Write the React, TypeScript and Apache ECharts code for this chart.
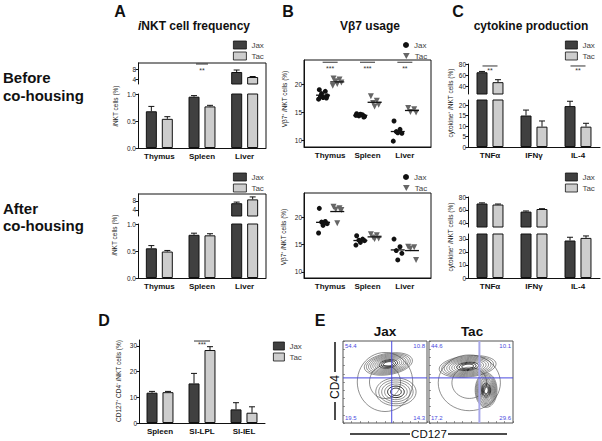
import React, { useEffect, useRef } from 'react';
import * as echarts from 'echarts';

const FONT = 'Liberation Sans, Arial, Helvetica, sans-serif';
const INK = '#111111';
const JAX_FILL = '#404040';
const TAC_FILL = '#cdcdcd';
const TAC_DOT = '#666666';
const QUAD_BLUE = '#4a4ae0';

// ---------- categories ----------
const organs = ['Thymus', 'Spleen', 'Liver'];
const cytokines = ['TNFα', 'IFNγ', 'IL-4'];
const tissues = ['Spleen', 'SI-LPL', 'SI-IEL'];
const groupsNames = ['Jax', 'Tac'];

// ---------- A: iNKT cell frequency (%) ----------
const freqBeforeJax = [0.68, 0.95, 6.8];
const freqBeforeJaxErr = [0.09, 0.02, 0.8];
const freqBeforeTac = [0.54, 0.77, 4.8];
const freqBeforeTacErr = [0.04, 0.02, 0.2];
const freqAfterJax = [0.55, 0.8, 7.0];
const freqAfterJaxErr = [0.05, 0.03, 0.5];
const freqAfterTac = [0.49, 0.79, 8.7];
const freqAfterTacErr = [0.02, 0.03, 1.1];
const sigFreqBefore = ['', '**', ''];

// ---------- B: Vβ7 usage (%) ----------
const vb7BeforeJax = [
  [19.0, 18.7, 18.3, 17.9, 17.6, 17.3, 17.5, 17.8],
  [14.7, 14.5, 14.3, 14.2, 14.6, 14.4, 14.1],
  [13.4, 11.9, 11.5, 11.2, 11.3, 9.8],
];
const vb7BeforeTac = [
  [21.0, 20.8, 20.5, 20.3, 20.0, 19.7],
  [17.8, 17.0, 16.6, 16.3, 16.0],
  [15.7, 15.5, 15.0, 14.9],
];
const vb7AfterJax = [
  [21.6, 19.2, 19.1, 18.8, 18.5, 17.1],
  [16.6, 16.0, 15.8, 15.7, 15.4, 14.9],
  [16.0, 14.6, 13.9, 13.4, 12.2],
];
const vb7AfterTac = [
  [21.9, 21.6, 21.4, 21.3, 18.9],
  [16.9, 16.7, 16.3, 16.1, 16.0],
  [14.6, 14.5, 14.3, 12.2],
];
const sigVb7Before = ['***', '***', '**'];

// ---------- C: cytokine production (%) ----------
const cytoBeforeJax = [65, 15, 19.5];
const cytoBeforeJaxErr = [1.5, 2.6, 2.3];
const cytoBeforeTac = [47, 9.7, 9.7];
const cytoBeforeTacErr = [4.5, 2.7, 1.6];
const cytoAfterJax = [70, 57.5, 28.8];
const cytoAfterJaxErr = [1.0, 1.0, 2.5];
const cytoAfterTac = [68.4, 61.5, 30.8];
const cytoAfterTacErr = [0.8, 0.5, 1.5];
const sigCytoBefore = ['**', '', '**'];

// ---------- D: CD127+ CD4- iNKT cells (%) ----------
const cd127Jax = [11.8, 15.4, 5.3];
const cd127JaxErr = [0.5, 3.9, 2.6];
const cd127Tac = [12.0, 28.4, 4.0];
const cd127TacErr = [0.3, 1.3, 2.3];
const sigCd127 = ['', '***', ''];

// ---------- E: flow quadrants ----------
const jaxQuad = [54.4, 10.8, 19.5, 14.3];
const tacQuad = [44.6, 10.1, 17.2, 29.6];
const jaxGate = [58, 55];
const tacGate = [60, 55];
// contour clusters: [cx, cy, rx, ry, rotationDeg, levels]
const jaxClusters = [
  [50, 50, 33, 36, 0, 2],
  [63, 38, 24, 17, 0, 6],
  [54, 72, 29, 13, 10, 10],
];
const tacClusters = [
  [48, 49, 37, 34, 0, 2],
  [46, 69, 34, 13, 6, 10],
  [68, 40, 13, 21, 0, 12],
];

// ---------- tick labels ----------
const ticksFreqUpper = [4, 8];
const ticksFreqLower = [0, 0.5, 1.0];
const ticksVb7 = [10, 15, 20];
const ticksCytoUpper = [40, 60, 80];
const ticksCytoBeforeLower = [0, 5, 10, 15, 20];
const ticksCytoAfterLower = [0, 10, 20, 30];
const ticksCd127 = [0, 10, 20, 30];

// ---------- layout constants ----------
const BAR_W = 11;
const BAR_HALF = 8;
const GROUP_OFF = 0.19;
const JITTER = [-0.1, 0.06, -0.04, 0.11, 0.0, -0.12, 0.09, -0.07];

const mean = (a: number[]) => a.reduce((s, v) => s + v, 0) / a.length;

function catAxis(gi: number, cats: string[], labels: boolean) {
  return {
    type: 'category', gridIndex: gi, data: cats,
    axisLine: { show: labels, onZero: false, lineStyle: { color: INK, width: 1 } },
    axisTick: { show: false },
    axisLabel: { show: labels, fontSize: 8, fontWeight: 'bold', color: INK, margin: 4, interval: 0, fontFamily: FONT },
    splitLine: { show: false },
  };
}

function valAxis(gi: number, min: number, max: number, ticks: number[], dec = 0) {
  return {
    type: 'value', gridIndex: gi, min, max,
    axisLine: { show: true, onZero: false, lineStyle: { color: INK, width: 1 } },
    axisTick: { show: true, length: 2.5, customValues: ticks, lineStyle: { color: INK } },
    axisLabel: { customValues: ticks, fontSize: 6.5, color: '#222', margin: 2, fontFamily: FONT, formatter: (v: number) => v.toFixed(dec) },
    splitLine: { show: false },
  };
}

function barPair(gi: number, jax: number[], tac: number[]) {
  const common = { type: 'bar', xAxisIndex: gi, yAxisIndex: gi, barWidth: BAR_W, barGap: '45%', clip: true, silent: true };
  return [
    { ...common, name: 'Jax', data: jax, itemStyle: { color: JAX_FILL, borderColor: INK, borderWidth: 1 } },
    { ...common, name: 'Tac', data: tac, itemStyle: { color: TAC_FILL, borderColor: INK, borderWidth: 1 } },
  ];
}

function errSeries(gi: number, vals: number[], errs: number[], offset: number) {
  return {
    type: 'custom', xAxisIndex: gi, yAxisIndex: gi, clip: true, silent: true, z: 4,
    data: vals.map((v, i) => [i, v, v + errs[i]]),
    renderItem: (params: any, api: any) => {
      const p0 = api.coord([api.value(0), api.value(1)]);
      const p1 = api.coord([api.value(0), api.value(2)]);
      const x = p0[0] + offset;
      return {
        type: 'group',
        children: [
          { type: 'line', shape: { x1: x, y1: p0[1], x2: x, y2: p1[1] }, style: { stroke: INK, lineWidth: 1 } },
          { type: 'line', shape: { x1: x - 3, y1: p1[1], x2: x + 3, y2: p1[1] }, style: { stroke: INK, lineWidth: 1 } },
        ],
      };
    },
  };
}

function barPanel(upper: number | null, lower: number, jax: number[], jaxErr: number[], tac: number[], tacErr: number[]) {
  const out: any[] = [];
  const gis = upper === null ? [lower] : [upper, lower];
  gis.forEach((gi) => {
    out.push(...barPair(gi, jax, tac));
    out.push(errSeries(gi, jax, jaxErr, -BAR_HALF));
    out.push(errSeries(gi, tac, tacErr, BAR_HALF));
  });
  return out;
}

function sigSeries(gi: number, labels: string[], lineValue: number, half = 7.5, textGap = 5) {
  const data = labels.map((t, i) => [i, lineValue]).filter((d) => labels[d[0]] !== '');
  return {
    type: 'custom', xAxisIndex: gi, yAxisIndex: gi, clip: false, silent: true, z: 5,
    data,
    renderItem: (params: any, api: any) => {
      const p = api.coord([api.value(0), api.value(1)]);
      const txt = labels[Math.round(api.value(0))];
      return {
        type: 'group',
        children: [
          { type: 'line', shape: { x1: p[0] - half, y1: p[1], x2: p[0] + half, y2: p[1] }, style: { stroke: '#333', lineWidth: 1 } },
          { type: 'text', x: p[0], y: p[1] + textGap, style: { text: txt, fontSize: 7, fill: '#333', align: 'center', verticalAlign: 'middle', fontFamily: FONT } },
        ],
      };
    },
  };
}

function dotSeries(gi: number, groups: number[][], side: number, name: string) {
  const data: number[][] = [];
  groups.forEach((arr, g) => arr.forEach((v, j) => data.push([g + side * GROUP_OFF + JITTER[j % JITTER.length], v])));
  const isJax = name === 'Jax';
  return {
    type: 'scatter', name, xAxisIndex: gi, yAxisIndex: gi, silent: true, data,
    symbol: isJax ? 'circle' : 'triangle',
    symbolRotate: isJax ? 0 : 180,
    symbolSize: isJax ? 5 : 6,
    itemStyle: { color: isJax ? INK : TAC_DOT, opacity: 1 },
  };
}

function meanSeries(gi: number, groups: number[][], side: number) {
  return {
    type: 'custom', xAxisIndex: gi, yAxisIndex: gi, silent: true, z: 5,
    data: groups.map((arr, g) => [g + side * GROUP_OFF, mean(arr)]),
    renderItem: (params: any, api: any) => {
      const p = api.coord([api.value(0), api.value(1)]);
      return { type: 'line', shape: { x1: p[0] - 7, y1: p[1], x2: p[0] + 7, y2: p[1] }, style: { stroke: INK, lineWidth: 1.3 } };
    },
  };
}

function contourSeries(gi: number, clusters: number[][]) {
  return {
    type: 'custom', xAxisIndex: gi, yAxisIndex: gi, silent: true, clip: true,
    data: clusters,
    renderItem: (params: any, api: any) => {
      const cx = api.value(0), cy = api.value(1), rx = api.value(2), ry = api.value(3);
      const rot = (api.value(4) * Math.PI) / 180;
      const lv = api.value(5);
      const children: any[] = [];
      for (let k = 0; k < lv; k++) {
        const s = 1 - (0.88 * k) / lv;
        const pts: number[][] = [];
        for (let t = 0; t < 48; t++) {
          const a = (t / 48) * Math.PI * 2;
          const dx = rx * s * Math.cos(a);
          const dy = ry * s * Math.sin(a);
          const x = cx + dx * Math.cos(rot) - dy * Math.sin(rot);
          const y = cy + dx * Math.sin(rot) + dy * Math.cos(rot);
          pts.push(api.coord([x, y]));
        }
        children.push({ type: 'polygon', shape: { points: pts }, style: { fill: 'none', stroke: k > lv * 0.6 ? '#111' : '#444', lineWidth: k > lv * 0.6 ? 0.9 : 0.6 } });
      }
      return { type: 'group', children };
    },
  };
}

function gateSeries(gi: number, gate: number[], vColor: string, vWidth: number) {
  return {
    type: 'custom', xAxisIndex: gi, yAxisIndex: gi, silent: true, z: 6,
    data: [gate],
    renderItem: (params: any, api: any) => {
      const cs = params.coordSys;
      const p = api.coord([api.value(0), api.value(1)]);
      return {
        type: 'group',
        children: [
          { type: 'line', shape: { x1: p[0], y1: cs.y, x2: p[0], y2: cs.y + cs.height }, style: { stroke: vColor, lineWidth: vWidth } },
          { type: 'line', shape: { x1: cs.x, y1: p[1], x2: cs.x + cs.width, y2: p[1] }, style: { stroke: QUAD_BLUE, lineWidth: 1 } },
        ],
      };
    },
  };
}

function quadTextSeries(gi: number, quad: number[]) {
  return {
    type: 'custom', xAxisIndex: gi, yAxisIndex: gi, silent: true, z: 7,
    data: [quad],
    renderItem: (params: any, api: any) => {
      const cs = params.coordSys;
      const st = (text: string, align: string, va: string) => ({ text, fontSize: 6, fill: QUAD_BLUE, align, verticalAlign: va, fontFamily: FONT });
      return {
        type: 'group',
        children: [
          { type: 'text', x: cs.x + 2, y: cs.y + 2, style: st(api.value(0).toFixed(1), 'left', 'top') },
          { type: 'text', x: cs.x + cs.width - 2, y: cs.y + 2, style: st(api.value(1).toFixed(1), 'right', 'top') },
          { type: 'text', x: cs.x + 2, y: cs.y + cs.height - 2, style: st(api.value(2).toFixed(1), 'left', 'bottom') },
          { type: 'text', x: cs.x + cs.width - 2, y: cs.y + cs.height - 2, style: st(api.value(3).toFixed(1), 'right', 'bottom') },
        ],
      };
    },
  };
}

function flowAxis(gi: number) {
  return {
    type: 'value', gridIndex: gi, min: 0, max: 100, splitNumber: 10,
    axisLine: { show: false, onZero: false },
    axisTick: { show: true, inside: true, length: 2, lineStyle: { color: '#555', width: 0.6 } },
    axisLabel: { show: false },
    splitLine: { show: false },
  };
}

// one legend component per entry, so each entry sits exactly where the reference has it
function legendEntry(left: number, centerY: number, name: string, icon: string, itemStyle: any, iw: number, ih: number) {
  return {
    left, top: centerY - 5, orient: 'vertical', itemWidth: iw, itemHeight: ih, padding: 0, selectedMode: false,
    textStyle: { fontSize: 8, color: '#444', fontFamily: FONT, lineHeight: 10 },
    data: [{ name, icon, itemStyle }],
  };
}

function barLegend(left: number, cy: number, iw: number) {
  return [
    legendEntry(left, cy, groupsNames[0], 'rect', { color: JAX_FILL, borderColor: INK, borderWidth: 0.8 }, iw, 8),
    legendEntry(left, cy + 11, groupsNames[1], 'rect', { color: TAC_FILL, borderColor: INK, borderWidth: 0.8 }, iw, 8),
  ];
}

function dotLegend(left: number, cy: number) {
  return [
    legendEntry(left, cy, groupsNames[0], 'circle', { color: INK, borderWidth: 0 }, 6, 6),
    legendEntry(left, cy + 11, groupsNames[1], 'path://M0,0L10,0L5,9Z', { color: TAC_DOT, borderWidth: 0 }, 7, 6),
  ];
}

function txt(x: number, y: number, text: string, size: number, weight = 'normal', align = 'center', rich?: any, rotation = 0, fill = INK) {
  return {
    type: 'text', x, y, rotation, silent: true,
    style: { text, fontSize: size, fontWeight: weight, fontFamily: FONT, fill, align, verticalAlign: 'middle', rich },
  };
}

function yName(x: number, y: number, pre: string, post: string) {
  const base = { fontSize: 6.5, fontFamily: FONT, fill: '#222' };
  return txt(x, y, `{n|${pre}}{it|i}{n|${post}}`, 6.5, 'normal', 'center', {
    n: { ...base }, it: { ...base, fontStyle: 'italic' },
  }, Math.PI / 2, '#222');
}

function hline(x1: number, y1: number, x2: number, y2: number, w = 1) {
  return { type: 'line', silent: true, shape: { x1, y1, x2, y2 }, style: { stroke: INK, lineWidth: w } };
}

function buildOption() {
  const gridRects = [
    [138, 63, 128, 21],
    [138, 94, 128, 54],
    [138, 194, 128, 22],
    [138, 224, 128, 54],
    [304, 60, 127, 87],
    [304, 193, 127, 85],
    [468, 64, 132, 30],
    [468, 100, 132, 47],
    [468, 197, 132, 30],
    [468, 234, 132, 44],
    [139, 340, 126, 83],
    [343, 341, 84, 82],
    [429, 341, 84, 82],
  ];
  const grid = gridRects.map(([left, top, width, height], i) => ({
    left, top, width, height,
    show: i === 4 || i === 5 || i >= 11,
    borderColor: i >= 11 ? '#555' : INK,
    borderWidth: 1,
    backgroundColor: 'transparent',
    outerBoundsMode: 'none',
  }));

  const vb7X = (gi: number) => ({
    type: 'value', gridIndex: gi, min: -0.7, max: 2.7,
    axisLine: { show: true, onZero: false, lineStyle: { color: INK } },
    axisTick: { show: false },
    axisLabel: { customValues: [0, 1, 2], formatter: (v: number) => organs[Math.round(v)], fontSize: 8, fontWeight: 'bold', color: INK, margin: 4, fontFamily: FONT },
    splitLine: { show: false },
  });

  const xAxis = [
    catAxis(0, organs, false),
    catAxis(1, organs, true),
    catAxis(2, organs, false),
    catAxis(3, organs, true),
    vb7X(4),
    vb7X(5),
    catAxis(6, cytokines, false),
    catAxis(7, cytokines, true),
    catAxis(8, cytokines, false),
    catAxis(9, cytokines, true),
    catAxis(10, tissues, true),
    flowAxis(11),
    flowAxis(12),
  ];
  const yAxis = [
    valAxis(0, 2, 10.4, ticksFreqUpper),
    valAxis(1, 0, 1.0, ticksFreqLower, 1),
    valAxis(2, 1.3, 11.1, ticksFreqUpper),
    valAxis(3, 0, 1.0, ticksFreqLower, 1),
    valAxis(4, 8.75, 24.3, ticksVb7),
    valAxis(5, 8.9, 24.4, ticksVb7),
    valAxis(6, 25.5, 80, ticksCytoUpper),
    valAxis(7, 0, 22.4, ticksCytoBeforeLower),
    valAxis(8, 33.8, 80, ticksCytoUpper),
    valAxis(9, 0, 33.8, ticksCytoAfterLower),
    valAxis(10, 0, 32.3, ticksCd127),
    flowAxis(11),
    flowAxis(12),
  ];

  const series: any[] = [
    ...barPanel(0, 1, freqBeforeJax, freqBeforeJaxErr, freqBeforeTac, freqBeforeTacErr),
    sigSeries(0, sigFreqBefore, 10.0, 6, 6),
    ...barPanel(2, 3, freqAfterJax, freqAfterJaxErr, freqAfterTac, freqAfterTacErr),
    dotSeries(4, vb7BeforeJax, -1, 'Jax'),
    dotSeries(4, vb7BeforeTac, 1, 'Tac'),
    meanSeries(4, vb7BeforeJax, -1),
    meanSeries(4, vb7BeforeTac, 1),
    sigSeries(4, sigVb7Before, 23.9, 7.5, 6),
    dotSeries(5, vb7AfterJax, -1, 'Jax'),
    dotSeries(5, vb7AfterTac, 1, 'Tac'),
    meanSeries(5, vb7AfterJax, -1),
    meanSeries(5, vb7AfterTac, 1),
    ...barPanel(6, 7, cytoBeforeJax, cytoBeforeJaxErr, cytoBeforeTac, cytoBeforeTacErr),
    sigSeries(6, sigCytoBefore, 76.4, 7.5, 5),
    ...barPanel(8, 9, cytoAfterJax, cytoAfterJaxErr, cytoAfterTac, cytoAfterTacErr),
    ...barPanel(null, 10, cd127Jax, cd127JaxErr, cd127Tac, cd127TacErr),
    sigSeries(10, sigCd127, 31.9, 8, 3),
    contourSeries(11, jaxClusters),
    gateSeries(11, jaxGate, QUAD_BLUE, 1),
    quadTextSeries(11, jaxQuad),
    contourSeries(12, tacClusters),
    gateSeries(12, tacGate, '#a8a8ea', 2),
    quadTextSeries(12, tacQuad),
  ];

  const legend = [
    ...barLegend(233, 45, 13),
    ...barLegend(233, 177, 13),
    ...dotLegend(403, 45),
    ...dotLegend(403, 177),
    ...barLegend(565, 45, 12),
    ...barLegend(565, 177, 12),
    ...barLegend(273, 346, 11),
  ];

  const graphic = [
    // panel letters
    txt(120, 11, 'A', 16, 'bold'),
    txt(288, 11, 'B', 16, 'bold'),
    txt(458, 11, 'C', 16, 'bold'),
    txt(104, 320, 'D', 16, 'bold'),
    txt(320, 320, 'E', 16, 'bold'),
    // titles
    txt(194, 26, '{it|i}{b|NKT cell frequency}', 12, 'bold', 'center', {
      it: { fontSize: 12, fontWeight: 'bold', fontStyle: 'italic', fontFamily: FONT, fill: INK },
      b: { fontSize: 12, fontWeight: 'bold', fontFamily: FONT, fill: INK },
    }),
    txt(370, 26, 'Vβ7 usage', 12, 'bold'),
    txt(531, 26, 'cytokine production', 12, 'bold'),
    // row labels
    txt(3, 77, 'Before', 15, 'bold', 'left'),
    txt(3, 95, 'co-housing', 15, 'bold', 'left'),
    txt(3, 208, 'After', 15, 'bold', 'left'),
    txt(3, 225, 'co-housing', 15, 'bold', 'left'),
    // axis names
    yName(115, 106, '', 'NKT cells (%)'),
    yName(114, 235, '', 'NKT cells (%)'),
    yName(284, 99, 'Vβ7⁺ ', 'NKT cells (%)'),
    yName(283, 237, 'Vβ7⁺ ', 'NKT cells (%)'),
    yName(450, 103, 'cytokine⁺ ', 'NKT cells (%)'),
    yName(450, 237, 'cytokine⁺ ', 'NKT cells (%)'),
    yName(118, 381, 'CD127⁺ CD4⁻ ', 'NKT cells (%)'),
    // A frames (top + right edges)
    { type: 'polyline', silent: true, shape: { points: [[138, 63], [266, 63], [266, 148]] }, style: { stroke: INK, lineWidth: 1, fill: 'none' } },
    { type: 'polyline', silent: true, shape: { points: [[138, 194], [266, 194], [266, 278]] }, style: { stroke: INK, lineWidth: 1, fill: 'none' } },
    // E labels
    txt(385, 331, 'Jax', 13.5, 'bold'),
    txt(472, 331, 'Tac', 13.5, 'bold'),
    txt(335, 387, 'CD4', 12, 'normal', 'center', undefined, Math.PI / 2),
    hline(335, 342, 335, 372, 1.5),
    hline(335, 402, 335, 420, 1.5),
    txt(429, 434, 'CD127', 11.5, 'normal', 'center'),
    hline(350, 434, 410, 434, 1.5),
    hline(448, 434, 507, 434, 1.5),
  ];

  return {
    animation: false,
    backgroundColor: '#ffffff',
    textStyle: { fontFamily: FONT },
    grid, xAxis, yAxis, series, legend, graphic,
  };
}

export default function App() {
  const ref = useRef<HTMLDivElement>(null);
  useEffect(() => {
    const chart = echarts.init(ref.current as HTMLDivElement, null, { renderer: 'svg' });
    chart.setOption(buildOption() as any);
    return () => chart.dispose();
  }, []);
  return <div ref={ref} style={{ position: 'fixed', left: 0, top: 0, width: 602, height: 441, background: '#fff' }} />;
}
